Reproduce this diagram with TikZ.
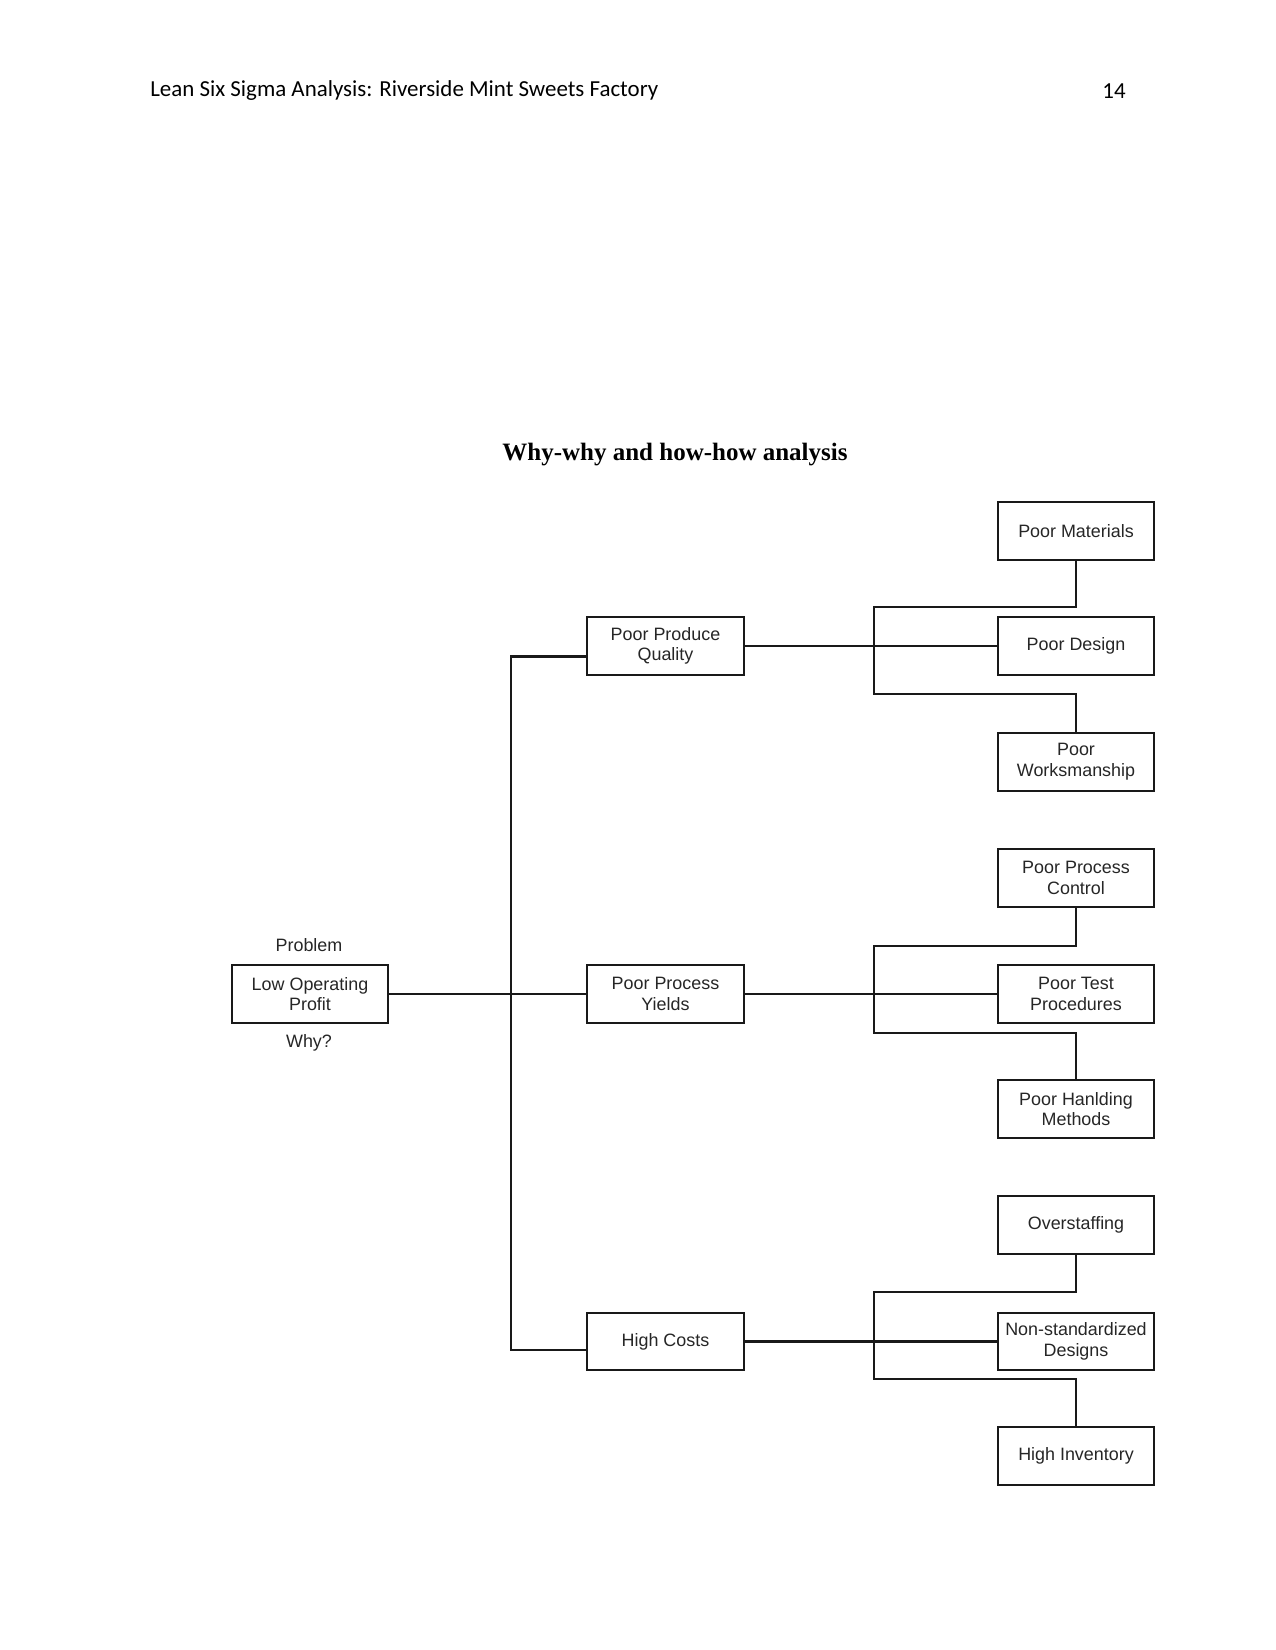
\documentclass[tikz,border=0pt]{standalone}
\usepackage{fontspec}
\setmainfont{Liberation Serif}
\newfontfamily\hdrfont{Carlito}
\newfontfamily\boxfont{Liberation Sans}
\begin{document}
\begin{tikzpicture}[x=0.48pt,y=-0.48pt,
  box/.style={draw=black!90,line width=1pt,minimum width=75pt,minimum height=27.5pt,inner sep=1pt,align=center,
    font=\boxfont\fontsize{8.6}{9.9}\selectfont,text=black!85},
  lbl/.style={font=\boxfont\fontsize{8.6}{9.9}\selectfont,text=black!85},
  conn/.style={draw=black!90,line width=1pt}]
\path[use as bounding box,fill=white] (0,0) rectangle (1275,1650);
% header
\node[anchor=west,font=\hdrfont\fontsize{11}{13}\selectfont] (hdr) at (143,91) {Lean Six Sigma Analysis: Riverside Mint Sweets Factory};
\node[anchor=east,font=\hdrfont\fontsize{11}{13}\selectfont] (pg) at (1133,91) {14};
\node[font=\bfseries\fontsize{12}{14}\selectfont] (title) at (675,455) {Why-why and how-how analysis};
% nodes
\node[box] (low) at (310,994) {Low Operating\\Profit};
\node[lbl] (prob) at (309,945) {Problem};
\node[lbl] (why) at (309,1043) {Why?};
\node[box] (ppq) at (665.5,646) {Poor Produce\\Quality};
\node[box] (ppy) at (665.5,994) {Poor Process\\Yields};
\node[box] (hc) at (665.5,1341.5) {High Costs};
\node[box] (pm) at (1076,531) {Poor Materials};
\node[box] (pd) at (1076,646) {Poor Design};
\node[box] (pw) at (1076,762) {Poor\\Worksmanship};
\node[box] (ppc) at (1076,878) {Poor Process\\Control};
\node[box] (ptp) at (1076,994) {Poor Test\\Procedures};
\node[box] (phm) at (1076,1109) {Poor Hanlding\\Methods};
\node[box] (os) at (1076,1225) {Overstaffing};
\node[box] (nsd) at (1076,1341.5) {Non-standardized\\Designs};
\node[box] (hi) at (1076,1456) {High Inventory};
% trunk
\coordinate (ttop) at (511,656.5);
\coordinate (tbot) at (511,1350);
\draw[conn] (ppq.west |- ttop) -- (ttop) -- (tbot) -- (hc.west |- tbot);
\draw[conn] (low.east) -- (ppy.west);
% group 1
\coordinate (g1t) at (874,607);
\coordinate (g1b) at (874,694);
\draw[conn] (pm.south) |- (g1t) -- (g1b) -| (pw.north);
\draw[conn] (ppq.east) -- (pd.west);
% group 2
\coordinate (g2t) at (874,946);
\coordinate (g2b) at (874,1033);
\draw[conn] (ppc.south) |- (g2t) -- (g2b) -| (phm.north);
\draw[conn] (ppy.east) -- (ptp.west);
% group 3
\coordinate (g3t) at (874,1292);
\coordinate (g3b) at (874,1379);
\draw[conn] (os.south) |- (g3t) -- (g3b) -| (hi.north);
\draw[conn] (hc.east) -- (nsd.west);
\end{tikzpicture}
\end{document}
